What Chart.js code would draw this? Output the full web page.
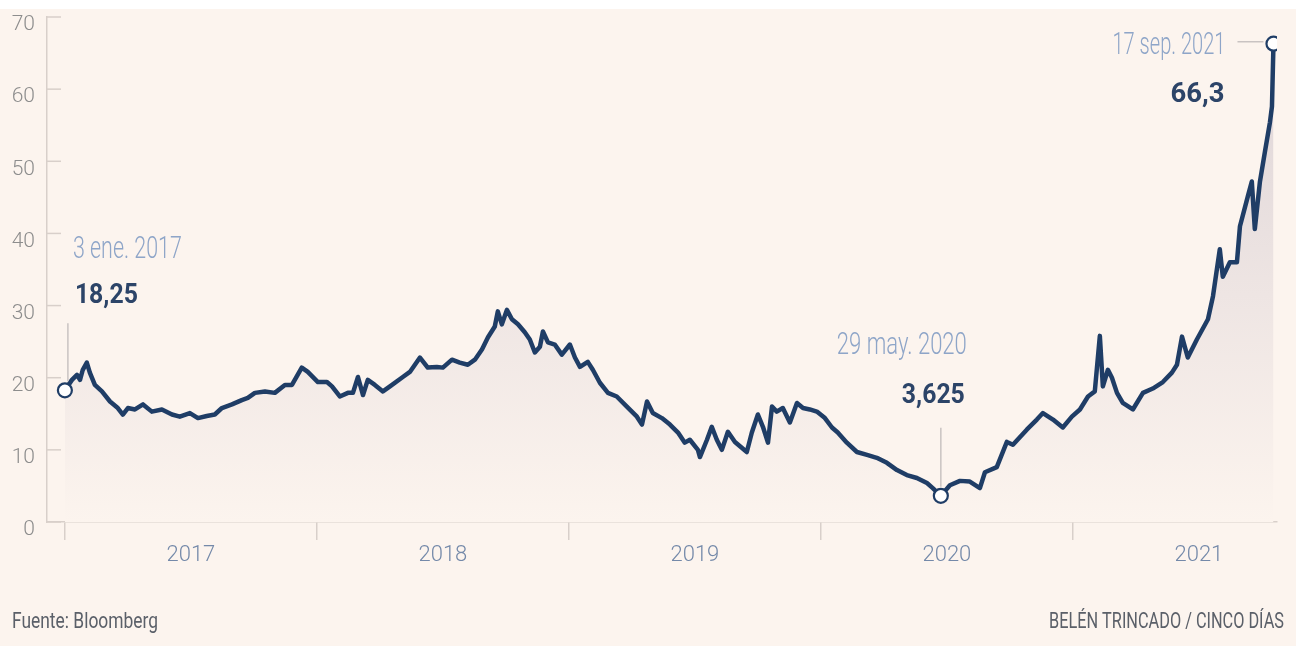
<!DOCTYPE html>
<html>
<head>
<meta charset="utf-8">
<script src="https://cdn.jsdelivr.net/npm/chart.js@4.4.0/dist/chart.umd.min.js"></script>
<style>
  html, body { margin: 0; padding: 0; background: #ffffff; }
  canvas { display: block; }
</style>
</head>
<body>
<canvas id="c" width="1296" height="646"></canvas>
<script>
// ---- DATA (decimal year, price) ----
const dates = [
  2017.000, 2017.028, 2017.048, 2017.060, 2017.071, 2017.087, 2017.099, 2017.119, 2017.147, 2017.179,
  2017.210, 2017.230, 2017.250, 2017.278, 2017.310, 2017.345, 2017.385, 2017.425, 2017.456, 2017.496,
  2017.528, 2017.563, 2017.595, 2017.623, 2017.663, 2017.702, 2017.726, 2017.754, 2017.794, 2017.833,
  2017.873, 2017.901, 2017.940, 2017.964, 2018.004, 2018.040, 2018.060, 2018.091, 2018.123, 2018.143,
  2018.163, 2018.183, 2018.202, 2018.230, 2018.262, 2018.290, 2018.341, 2018.369, 2018.409, 2018.440,
  2018.476, 2018.500, 2018.536, 2018.567, 2018.599, 2018.627, 2018.655, 2018.679, 2018.706, 2018.718,
  2018.734, 2018.754, 2018.774, 2018.798, 2018.825, 2018.845, 2018.865, 2018.885, 2018.897, 2018.917,
  2018.944, 2018.972, 2019.004, 2019.024, 2019.044, 2019.075, 2019.095, 2019.123, 2019.155, 2019.190,
  2019.230, 2019.270, 2019.290, 2019.310, 2019.333, 2019.369, 2019.401, 2019.433, 2019.460, 2019.480,
  2019.512, 2019.520, 2019.548, 2019.567, 2019.587, 2019.607, 2019.631, 2019.659, 2019.706, 2019.726,
  2019.750, 2019.770, 2019.790, 2019.806, 2019.825, 2019.849, 2019.877, 2019.905, 2019.929, 2019.956,
  2019.984, 2020.016, 2020.044, 2020.067, 2020.103, 2020.143, 2020.183, 2020.222, 2020.262, 2020.302,
  2020.341, 2020.381, 2020.421, 2020.444, 2020.476, 2020.512, 2020.552, 2020.591, 2020.631, 2020.651,
  2020.698, 2020.738, 2020.762, 2020.817, 2020.857, 2020.881, 2020.921, 2020.960, 2020.996, 2021.028,
  2021.060, 2021.087, 2021.107, 2021.119, 2021.139, 2021.155, 2021.175, 2021.198, 2021.238, 2021.278,
  2021.317, 2021.357, 2021.393, 2021.413, 2021.433, 2021.456, 2021.492, 2021.536, 2021.556, 2021.583,
  2021.595, 2021.623, 2021.651, 2021.663, 2021.694, 2021.710, 2021.722, 2021.742, 2021.762, 2021.782,
  2021.790, 2021.796
];
const prices = [
  18.25, 19.7, 20.4, 19.7, 21.1, 22.1, 20.7, 19.0, 18.1, 16.7,
  15.8, 14.9, 15.8, 15.6, 16.3, 15.3, 15.6, 14.9, 14.6, 15.1,
  14.4, 14.7, 14.9, 15.8, 16.3, 16.9, 17.2, 17.9, 18.1, 17.9,
  19.0, 19.0, 21.4, 20.8, 19.4, 19.4, 18.8, 17.4, 17.9, 17.9,
  20.1, 17.6, 19.7, 19.0, 18.1, 18.8, 20.1, 20.8, 22.8, 21.4,
  21.5, 21.4, 22.5, 22.1, 21.8, 22.5, 23.9, 25.6, 27.1, 29.2,
  27.4, 29.4, 28.1, 27.4, 26.3, 25.3, 23.5, 24.3, 26.4, 24.9,
  24.6, 23.2, 24.6, 22.8, 21.5, 22.2, 21.1, 19.3, 17.9, 17.4,
  16.0, 14.6, 13.5, 16.7, 15.1, 14.4, 13.5, 12.4, 11.0, 11.4,
  10.0, 9.0, 11.4, 13.2, 11.4, 10.0, 12.5, 11.1, 9.7, 12.4,
  14.9, 13.2, 11.0, 16.0, 15.3, 15.8, 13.8, 16.5, 15.8, 15.6,
  15.3, 14.4, 13.1, 12.4, 11.0, 9.7, 9.3, 8.9, 8.2, 7.2,
  6.5, 6.1, 5.4, 4.7, 3.625, 5.1, 5.7, 5.6, 4.7, 6.9,
  7.6, 11.1, 10.7, 12.8, 14.2, 15.1, 14.2, 13.1, 14.6, 15.6,
  17.4, 18.1, 25.8, 18.8, 21.1, 20.0, 17.9, 16.5, 15.6, 17.9,
  18.5, 19.4, 20.7, 21.8, 25.7, 22.8, 25.3, 28.1, 31.3, 37.8,
  34.0, 36.0, 36.0, 41.0, 45.1, 47.2, 40.6, 47.1, 51.3, 55.4,
  57.6, 66.3
];
const yearTicks = [2017, 2018, 2019, 2020, 2021];
const yTicks = [0, 10, 20, 30, 40, 50, 60, 70];
const noteDates = ['3 ene. 2017', '29 may. 2020', '17 sep. 2021'];
const noteValues = ['18,25', '3,625', '66,3'];
const sourceText = 'Fuente: Bloomberg';
const creditText = 'BELÉN TRINCADO / CINCO DÍAS';

// ---- derived ----
const points = dates.map((d, i) => ({ x: d, y: prices[i] }));
let minIdx = 0;
prices.forEach((v, i) => { if (v < prices[minIdx]) minIdx = i; });
const highlight = [0, minIdx, prices.length - 1];

const LINE = '#1f3d66';
const CREAM = '#fcf4ee';
const AXIS = '#d8cfca';
const LIGHT = "300 31px Roboto, 'Open Sans', sans-serif";
const BOLD = "700 28px Roboto, 'Open Sans', sans-serif";

function txt(ctx, s, x, y, align, font, color, w) {
  ctx.font = font;
  ctx.fillStyle = color;
  ctx.textAlign = align;
  ctx.textBaseline = 'alphabetic';
  const nat = ctx.measureText(s).width;
  ctx.fillText(s, x, y, Math.min(nat, w));
}

const bgPlugin = {
  id: 'bg',
  beforeDraw(chart) {
    const c = chart.ctx;
    c.save();
    c.fillStyle = '#ffffff';
    c.fillRect(0, 0, chart.width, chart.height);
    c.fillStyle = CREAM;
    c.fillRect(0, 9, chart.width, chart.height - 9);
    c.restore();
  }
};

const axisTicksPlugin = {
  id: 'inwardTicks',
  afterDraw(chart) {
    const c = chart.ctx;
    const ys = chart.scales.y;
    c.save();
    c.strokeStyle = AXIS;
    c.lineWidth = 1.5;
    yTicks.forEach(v => {
      const py = ys.getPixelForValue(v);
      c.beginPath();
      c.moveTo(ys.right, py);
      c.lineTo(ys.right + 14, py);
      c.stroke();
    });
    c.restore();
  }
};

const notesPlugin = {
  id: 'notes',
  afterDatasetsDraw(chart) {
    const c = chart.ctx;
    const meta = chart.getDatasetMeta(0);
    const [p0, pm, pl] = highlight.map(i => meta.data[i]);
    c.save();
    // leader lines
    c.strokeStyle = '#c9c3c2';
    c.lineWidth = 1.5;
    c.beginPath();
    c.moveTo(p0.x + 3, p0.y - 67); c.lineTo(p0.x + 3, p0.y - 9);
    c.moveTo(pm.x, pm.y - 68); c.lineTo(pm.x, pm.y - 9);
    c.moveTo(pl.x - 36, pl.y - 2); c.lineTo(pl.x - 10, pl.y - 2);
    c.stroke();
    // first point
    txt(c, noteDates[0], p0.x + 8, p0.y - 132, 'left', LIGHT, '#8ea5c8', 109);
    txt(c, noteValues[0], p0.x + 10, p0.y - 87, 'left', BOLD, '#2c4468', 63);
    // minimum
    txt(c, noteDates[1], pm.x + 26, pm.y - 142, 'right', LIGHT, '#8ea5c8', 130);
    txt(c, noteValues[1], pm.x + 24, pm.y - 93, 'right', BOLD, '#2c4468', 63);
    // last
    txt(c, noteDates[2], pl.x - 48, pl.y + 10, 'right', LIGHT, '#8ea5c8', 113);
    txt(c, noteValues[2], pl.x - 49, pl.y + 58, 'right', BOLD, '#2c4468', 54);
    c.restore();
  },
  afterDraw(chart) {
    const c = chart.ctx;
    c.save();
    txt(c, sourceText, 12, 628, 'left', "400 22px Roboto, sans-serif", '#5b6069', 146);
    txt(c, creditText, 1284, 628, 'right', "400 22px Roboto, sans-serif", '#5b6069', 235);
    c.restore();
  }
};

new Chart(document.getElementById('c'), {
  type: 'line',
  data: {
    datasets: [{
      data: points,
      borderColor: LINE,
      borderWidth: 4.5,
      borderJoinStyle: 'round',
      tension: 0,
      fill: 'origin',
      backgroundColor: (ctx) => {
        const ch = ctx.chart;
        const a = ch.chartArea;
        if (!a) return 'rgba(0,0,0,0)';
        const g = ch.ctx.createLinearGradient(0, a.top, 0, a.bottom);
        g.addColorStop(0, '#dcd3d6');
        g.addColorStop(0.55, '#eee5e3');
        g.addColorStop(1, CREAM);
        return g;
      },
      pointRadius: (ctx) => highlight.includes(ctx.dataIndex) ? 7 : 0,
      pointBackgroundColor: '#ffffff',
      pointBorderColor: LINE,
      pointBorderWidth: 2.2,
      pointHoverRadius: 0
    }]
  },
  options: {
    responsive: false,
    animation: false,
    devicePixelRatio: 1,
    layout: { padding: { top: 17, right: 19, left: 0, bottom: 0 } },
    plugins: { legend: { display: false }, tooltip: { enabled: false } },
    scales: {
      x: {
        type: 'linear',
        min: 2016.929,
        max: 2021.81,
        afterBuildTicks: (s) => { s.ticks = yearTicks.map(v => ({ value: v })); },
        afterFit: (s) => { s.height = 124; },
        ticks: {
          autoSkip: false,
          maxRotation: 0,
          labelOffset: 126,
          padding: 2,
          color: '#7489a9',
          font: { family: "Roboto, 'Open Sans', sans-serif", size: 22, weight: '300' },
          callback: (v) => String(v)
        },
        grid: {
          display: true,
          drawOnChartArea: false,
          drawTicks: true,
          tickLength: 18,
          color: AXIS,
          lineWidth: 1.5
        },
        border: { display: true, color: AXIS, width: 1.5 }
      },
      y: {
        min: 0,
        max: 70,
        afterBuildTicks: (s) => { s.ticks = yTicks.map(v => ({ value: v })); },
        afterFit: (s) => { s.width = 47; s.paddingTop = 0; s.paddingBottom = 0; },
        ticks: {
          padding: 12,
          labelOffset: 8,
          color: '#8d8d8d',
          font: { family: "Roboto, 'Open Sans', sans-serif", size: 21, weight: '300' }
        },
        grid: { display: false, drawTicks: false },
        border: { display: true, color: AXIS, width: 1.5 }
      }
    }
  },
  plugins: [bgPlugin, axisTicksPlugin, notesPlugin]
});
</script>
</body>
</html>
